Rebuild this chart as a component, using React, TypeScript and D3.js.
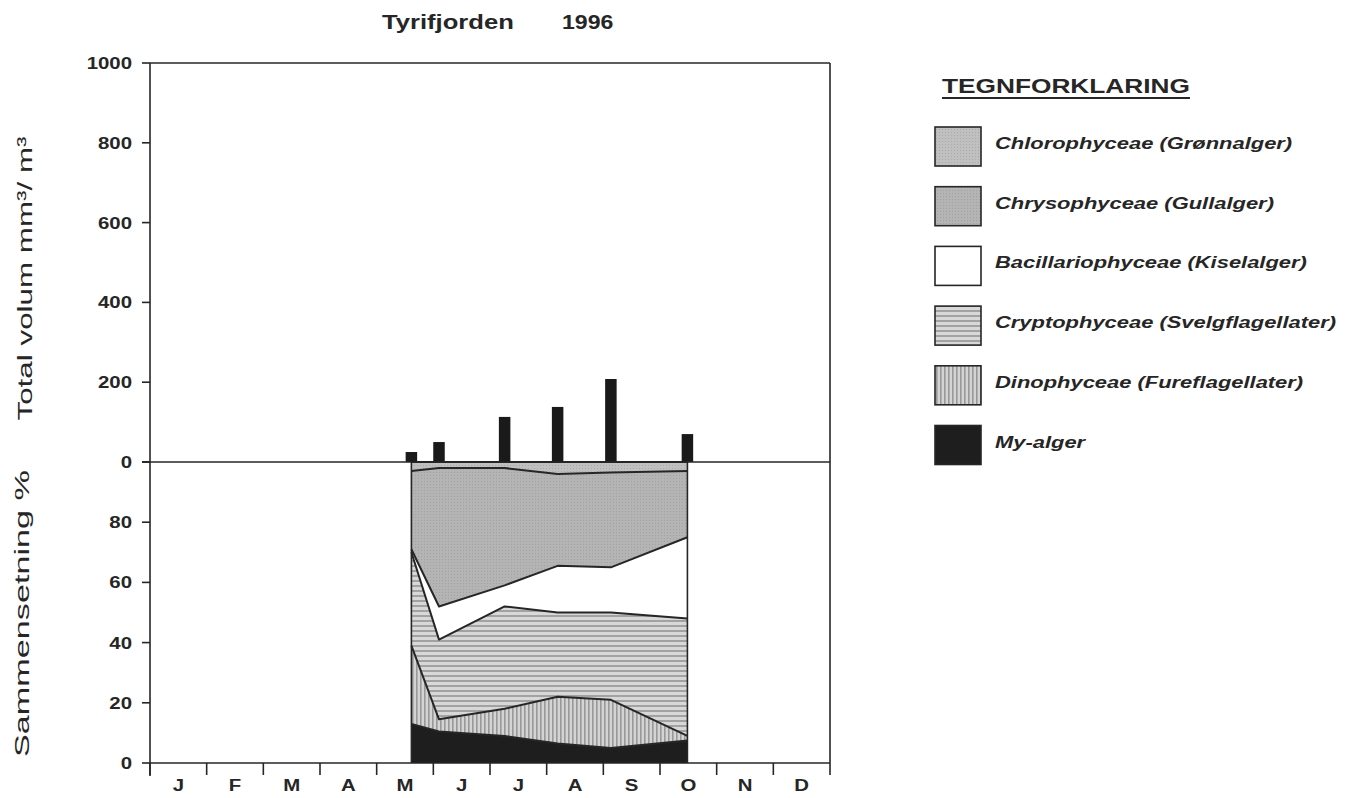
import React from 'react';
import * as d3 from 'd3';

const months = ['J', 'F', 'M', 'A', 'M', 'J', 'J', 'A', 'S', 'O', 'N', 'D'];
const sampleDates = ['1996-05-20', '1996-06-04', '1996-07-09', '1996-08-07', '1996-09-05', '1996-10-16'];
const totalVolume = [25, 50, 113, 138, 208, 70];

// percent composition, per sample date
const myAlger = [13, 10.5, 9, 6.5, 5, 7.5];
const dinophyceae = [26, 4, 9, 15.5, 16, 1.5];
const cryptophyceae = [31, 26.5, 34, 28, 29, 39];
const bacillariophyceae = [1, 11, 7, 15.5, 15, 27];
const chrysophyceae = [26, 46, 39, 30.5, 31.5, 22];
const chlorophyceae = [3, 2, 2, 4, 3.5, 3];

const volumeTicks = [0, 200, 400, 600, 800, 1000];
const percentTicks = [0, 20, 40, 60, 80, 100];
const percentTickLabels = ['0', '20', '40', '60', '80', ''];

const legendLabels = [
  'Chlorophyceae (Grønnalger)',
  'Chrysophyceae (Gullalger)',
  'Bacillariophyceae (Kiselalger)',
  'Cryptophyceae (Svelgflagellater)',
  'Dinophyceae (Fureflagellater)',
  'My-alger',
];
const legendKeys = ['chloro', 'chryso', 'bacil', 'crypto', 'dino', 'my'];
const stackKeys = ['my', 'dino', 'crypto', 'bacil', 'chryso', 'chloro'];

const FILLS: Record<string, string> = {
  chloro: 'url(#pChloro)',
  chryso: 'url(#pChryso)',
  bacil: '#ffffff',
  crypto: 'url(#pCrypto)',
  dino: 'url(#pDino)',
  my: '#1e1e1e',
};

const FONT = '"Liberation Sans", Arial, Helvetica, sans-serif';
const INK = '#262626';

function monthPos(s: string): number {
  const d = new Date(s + 'T00:00:00');
  const m = d.getMonth();
  const dim = new Date(d.getFullYear(), m + 1, 0).getDate();
  return m + (d.getDate() - 1) / dim;
}

const L = 150, R = 830, TOP = 63, MID = 462, BOT = 763;

export default function App() {
  const x = d3.scaleLinear().domain([0, 12]).range([L, R]);
  const yVol = d3.scaleLinear().domain([0, 1000]).range([MID, TOP]);
  const yPct = d3.scaleLinear().domain([0, 100]).range([BOT, MID]);

  const rows = sampleDates.map((d, i) => ({
    t: monthPos(d),
    my: myAlger[i],
    dino: dinophyceae[i],
    crypto: cryptophyceae[i],
    bacil: bacillariophyceae[i],
    chryso: chrysophyceae[i],
    chloro: chlorophyceae[i],
  }));
  const series = d3.stack<any>().keys(stackKeys)(rows);
  const area = d3
    .area<any>()
    .x((d) => x(d.data.t))
    .y0((d) => yPct(d[0]))
    .y1((d) => yPct(d[1]));
  const line = d3
    .line<any>()
    .x((d) => x(d.data.t))
    .y((d) => yPct(d[1]));

  const barW = 11.5;
  const monthBounds = d3.range(0, 13);

  const sText = (
    key: string,
    tx: number,
    ty: number,
    sx: number,
    content: string,
    opts: any = {}
  ) => (
    <text
      key={key}
      transform={`translate(${tx},${ty}) scale(${sx},1)`}
      fontFamily={FONT}
      fill={INK}
      {...opts}
    >
      {content}
    </text>
  );

  const legendTop = 127;
  const legendStep = 59.7;

  return (
    <svg
      width={1350}
      height={798}
      style={{ position: 'absolute', left: 0, top: 0, background: '#fff' }}
    >
      <defs>
        <pattern id="pChloro" width="3" height="3" patternUnits="userSpaceOnUse">
          <rect width="3" height="3" fill="#c0c0c0" />
          <rect x="0" y="0" width="1" height="1" fill="#a9a9a9" />
        </pattern>
        <pattern id="pChryso" width="3" height="3" patternUnits="userSpaceOnUse">
          <rect width="3" height="3" fill="#b4b4b4" />
          <rect x="1" y="1" width="1" height="1" fill="#a2a2a2" />
        </pattern>
        <pattern id="pCrypto" width="5" height="5" patternUnits="userSpaceOnUse">
          <rect width="5" height="5" fill="#d8d8d8" />
          <rect x="0" y="0" width="5" height="2" fill="#a2a2a2" />
        </pattern>
        <pattern id="pDino" width="4" height="4" patternUnits="userSpaceOnUse">
          <rect width="4" height="4" fill="#d4d4d4" />
          <rect x="0" y="0" width="1.6" height="4" fill="#989898" />
        </pattern>
      </defs>

      {/* Title */}
      {sText('t1', 382, 29, 1.22, 'Tyrifjorden', { fontSize: 21, fontWeight: 'bold' })}
      {sText('t2', 562, 29, 1.1, '1996', { fontSize: 21, fontWeight: 'bold' })}

      {/* stacked composition */}
      <g>
        {series.map((s) => (
          <path key={s.key} d={area(s) || ''} fill={FILLS[s.key as string]} stroke="none" />
        ))}
        {series.map((s) => (
          <path
            key={'l' + s.key}
            d={line(s) || ''}
            fill="none"
            stroke={INK}
            strokeWidth={2}
            strokeLinejoin="round"
          />
        ))}
        <line
          x1={x(rows[0].t)}
          x2={x(rows[0].t)}
          y1={yPct(0)}
          y2={yPct(100)}
          stroke={INK}
          strokeWidth={1.6}
        />
        <line
          x1={x(rows[rows.length - 1].t)}
          x2={x(rows[rows.length - 1].t)}
          y1={yPct(0)}
          y2={yPct(100)}
          stroke={INK}
          strokeWidth={1.6}
        />
      </g>

      {/* bars of total volume */}
      {rows.map((r, i) => (
        <rect
          key={'b' + i}
          x={x(r.t) - barW / 2}
          y={yVol(totalVolume[i])}
          width={barW}
          height={yVol(0) - yVol(totalVolume[i])}
          fill="#1a1a1a"
        />
      ))}

      {/* frame */}
      <g stroke={INK} strokeWidth={1.6} fill="none">
        <line x1={L} x2={L} y1={TOP} y2={BOT + 13} />
        <line x1={R} x2={R} y1={TOP} y2={BOT} />
        <line x1={L} x2={R} y1={TOP} y2={TOP} />
        <line x1={L - 8} x2={R} y1={MID} y2={MID} />
        <line x1={L} x2={R} y1={BOT} y2={BOT} />
        {volumeTicks.map((v) => (
          <line key={'vt' + v} x1={L - 8} x2={L} y1={yVol(v)} y2={yVol(v)} />
        ))}
        {percentTicks.map((v) => (
          <line key={'pt' + v} x1={L - 8} x2={L} y1={yPct(v)} y2={yPct(v)} />
        ))}
        {monthBounds.map((m) => (
          <line key={'mt' + m} x1={x(m)} x2={x(m)} y1={BOT} y2={BOT + 12} />
        ))}
      </g>

      {/* y tick labels */}
      {volumeTicks.map((v) =>
        sText('vl' + v, 132, yVol(v) + 6, 1.2, String(v), {
          fontSize: 17,
          fontWeight: 'bold',
          textAnchor: 'end',
        })
      )}
      {percentTicks.map((v, i) =>
        percentTickLabels[i]
          ? sText('pl' + v, 132, yPct(v) + 6, 1.2, percentTickLabels[i], {
              fontSize: 17,
              fontWeight: 'bold',
              textAnchor: 'end',
            })
          : null
      )}

      {/* month labels */}
      {months.map((m, i) =>
        sText('ml' + i, x(i + 0.5), 791, 1.2, m, {
          fontSize: 17,
          fontWeight: 'bold',
          textAnchor: 'middle',
        })
      )}

      {/* axis titles */}
      <text
        transform={`translate(32,278.5) rotate(-90)`}
        textAnchor="middle"
        fontFamily={FONT}
        fontSize={21}
        fill={INK}
        textLength={284}
        lengthAdjust="spacingAndGlyphs"
      >
        Total volum mm³/ m³
      </text>
      <text
        transform={`translate(29,613.5) rotate(-90)`}
        textAnchor="middle"
        fontFamily={FONT}
        fontSize={21}
        fill={INK}
        textLength={287}
        lengthAdjust="spacingAndGlyphs"
      >
        Sammensetning %
      </text>

      {/* legend */}
      <text
        x={942}
        y={93}
        fontFamily={FONT}
        fontSize={20}
        fontWeight="bold"
        fill={INK}
        textLength={248}
        lengthAdjust="spacingAndGlyphs"
      >
        TEGNFORKLARING
      </text>
      <line x1={942} x2={1190} y1={98} y2={98} stroke={INK} strokeWidth={2} />
      {legendKeys.map((k, i) => {
        const top = legendTop + i * legendStep;
        return (
          <g key={'lg' + k}>
            <rect
              x={935}
              y={top}
              width={46}
              height={39}
              fill={FILLS[k]}
              stroke={INK}
              strokeWidth={1.6}
            />
            {sText('lt' + k, 995, top + 22, 1.29, legendLabels[i], {
              fontSize: 17,
              fontWeight: 'bold',
              fontStyle: 'italic',
            })}
          </g>
        );
      })}
    </svg>
  );
}
